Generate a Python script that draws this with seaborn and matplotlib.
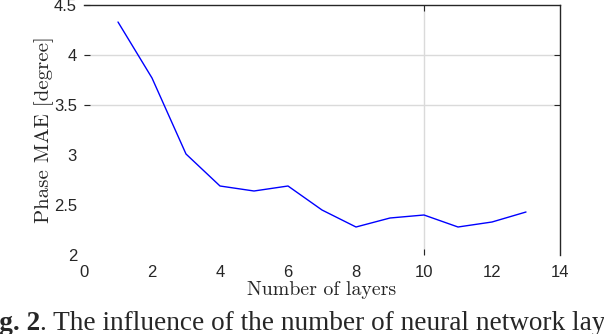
import matplotlib
matplotlib.use("Agg")
import matplotlib.pyplot as plt
import seaborn as sns

layers = [1, 2, 3, 4, 5, 6, 7, 8, 9, 10, 11, 12, 13]
phase_mae = [4.33, 3.77, 3.01, 2.69, 2.64, 2.69, 2.45, 2.28, 2.37, 2.40, 2.28, 2.33, 2.43]
xticks = [0, 2, 4, 6, 8, 10, 12, 14]
yticks = [2, 2.5, 3, 3.5, 4, 4.5]

sns.set_theme(style="white")
plt.rcParams["font.family"] = ["Liberation Sans", "DejaVu Sans"]

fig = plt.figure(figsize=(6.04, 3.34), dpi=100)
ax = fig.add_axes([84 / 604, 79 / 334, 476 / 604, 250 / 334])

sns.lineplot(x=layers, y=phase_mae, color="#0000ff", linewidth=1.0, ax=ax)

ax.set_xlim(0, 14)
ax.set_ylim(2, 4.5)
ax.set_xticks(xticks)
ax.set_yticks(yticks)
ax.set_xticklabels([str(v) for v in xticks])
ax.set_yticklabels(["2", "2.5", "3", "3.5", "4", "4.5"])

# only part of the grid is visible in the original
for y in [3.5, 4]:
    ax.axhline(y, color="#dadada", linewidth=1.0, zorder=0)
ax.axvline(10, color="#dadada", linewidth=1.0, zorder=0)

for s in ["left", "bottom"]:
    ax.spines[s].set_visible(False)
for s in ["top", "right"]:
    ax.spines[s].set_visible(True)
    ax.spines[s].set_color("#262626")
    ax.spines[s].set_linewidth(1.0)

ax.tick_params(axis="both", direction="in", length=4.5, width=0.8, color="#262626",
               labelsize=12, labelcolor="#262626", top=True, right=True)
ax.tick_params(axis="y", pad=5)
ax.tick_params(axis="x", pad=7)

for t, v in zip(ax.yaxis.get_major_ticks(), yticks):
    t.tick1line.set_visible(v >= 3.5)
    t.tick2line.set_visible(v in (3.5, 4))
for t, v in zip(ax.xaxis.get_major_ticks(), xticks):
    t.tick1line.set_visible(v == 10)
    t.tick2line.set_visible(v == 10)

ax.set_xlabel("Number of layers", fontfamily="cmr10", fontsize=14.3, labelpad=1)
ax.set_ylabel("Phase MAE [degree]", fontfamily="cmr10", fontsize=15, labelpad=0)

# caption, cut off at both sides like the source
fig_lbl = fig.text(-25 / 604, -1.5 / 334, "Fig. 2", fontfamily="Liberation Serif",
                   fontweight="bold", fontsize=19.6, ha="left", va="bottom")
ax.annotate(". The influence of the number of neural network layers", xy=(1, 0),
            xycoords=fig_lbl, fontfamily="Liberation Serif", fontsize=19.6,
            ha="left", va="bottom", annotation_clip=False)

fig.savefig("out.png", dpi=100)
